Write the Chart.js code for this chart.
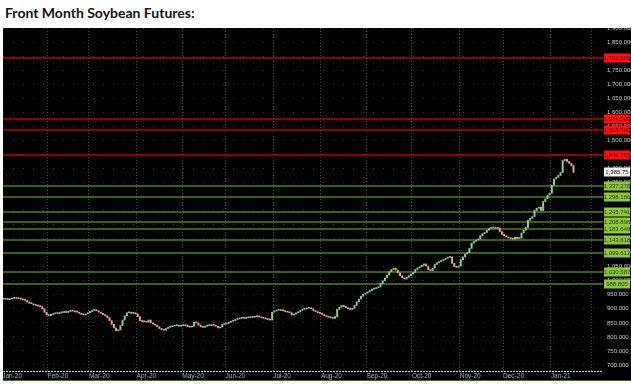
<!DOCTYPE html>
<html>
<head>
<meta charset="utf-8">
<script src="https://cdn.jsdelivr.net/npm/chart.js@4.4.1/dist/chart.umd.min.js"></script>
<style>
  html, body { margin: 0; padding: 0; background: #fff; }
  body { width: 631px; height: 384px; position: relative; overflow: hidden; }
  h1 { position: absolute; left: 5px; top: 4px; margin: 0; font: bold 14px Lato, sans-serif; color: #111; white-space: nowrap; }
  #box { position: absolute; left: 3px; top: 28px; width: 628px; height: 353px; background: #000; }
</style>
</head>
<body>
<h1>Front Month Soybean Futures:</h1>
<div id="box"><canvas id="chart" width="628" height="353"></canvas></div>
<script>
// month labels and number of trading days in each month
const monthLabels = ['Jan-20', 'Feb-20', 'Mar-20', 'Apr-20', 'May-20', 'Jun-20', 'Jul-20',
                     'Aug-20', 'Sep-20', 'Oct-20', 'Nov-20', 'Dec-20', 'Jan-21'];
const tradingDays = [21, 19, 22, 21, 20, 22, 22, 21, 21, 22, 20, 22, 19];

// daily settlements (cents/bu)
const firstOpen = 938;
const jan20 = [934, 935, 933, 935, 937, 938, 937, 936, 935, 932, 930, 924, 920, 918, 914, 912, 910, 908, 900, 888, 878];
const feb20 = [876, 880, 882, 884, 883, 886, 887, 888, 887, 891, 893, 892, 889, 888, 884, 880, 878, 882, 886];
const mar20 = [890, 894, 896, 893, 888, 884, 880, 875, 868, 858, 845, 832, 822, 825, 840, 860, 875, 886, 888, 884, 886, 882];
const apr20 = [872, 858, 855, 854, 852, 860, 850, 846, 842, 836, 830, 826, 824, 830, 834, 836, 838, 840, 842, 838, 842];
const may20 = [840, 842, 836, 835, 838, 852, 850, 842, 836, 834, 838, 842, 840, 843, 841, 838, 832, 835, 844, 846];
const jun20 = [848, 852, 856, 858, 862, 864, 866, 866, 866, 868, 870, 869, 870, 872, 872, 871, 868, 866, 864, 862, 860, 888];
const jul20 = [892, 895, 896, 894, 893, 890, 888, 886, 878, 882, 886, 889, 894, 898, 900, 902, 903, 900, 894, 890, 886, 884];
const aug20 = [880, 876, 872, 870, 868, 866, 872, 898, 906, 912, 908, 904, 900, 898, 902, 912, 925, 935, 945, 952, 956];
const sep20 = [960, 965, 970, 972, 975, 978, 990, 1000, 1010, 1020, 1032, 1040, 1045, 1038, 1028, 1018, 1010, 1006, 1012, 1018, 1024];
const oct20 = [1030, 1040, 1046, 1050, 1055, 1060, 1052, 1040, 1036, 1045, 1058, 1064, 1068, 1072, 1076, 1080, 1083, 1085, 1062, 1050, 1048, 1052];
const nov20 = [1075, 1085, 1095, 1100, 1115, 1134, 1140, 1145, 1148, 1160, 1168, 1172, 1180, 1186, 1188, 1190, 1186, 1188, 1175, 1165];
const dec20 = [1160, 1156, 1152, 1150, 1148, 1155, 1150, 1152, 1170, 1180, 1190, 1215, 1222, 1228, 1250, 1258, 1262, 1250, 1282, 1292, 1305, 1312];
const jan21 = [1340, 1362, 1368, 1375, 1385, 1428, 1432, 1425, 1418, 1410, 1385.75];

// support / resistance levels drawn on the chart
const redLevels = [1792.5, 1574.5, 1538.5, 1446.75];
const greenLevels = [1337.278, 1298.166, 1245.741, 1208.896, 1183.649, 1143.618, 1099.612, 1030.587, 988.805];
const lastPrice = 1385.75;

const yTicks = [];
for (let v = 700; v <= 1900; v += 50) yTicks.push(v);

const closes = [].concat(jan20, feb20, mar20, apr20, may20, jun20, jul20, aug20, sep20, oct20, nov20, dec20, jan21);

// month boundaries sit between trading days
const monthStarts = [];
let acc = 0;
tradingDays.forEach(n => { monthStarts.push(acc - 0.5); acc += n; });
monthStarts.push(acc - 0.5);

const UP = '#8ed08a';
const DOWN = '#f0a0a0';

const candles = closes.map((c, i) => ({ x: i, y: [i ? closes[i - 1] : firstOpen, c] }));
const colors = candles.map(d => d.y[1] >= d.y[0] ? UP : DOWN);

const fmt = (v, d) => v.toLocaleString('en-US', { minimumFractionDigits: d, maximumFractionDigits: d });

const levelsPlugin = {
  id: 'levels',
  beforeDatasetsDraw(chart) {
    const { ctx, chartArea: a, scales: { y } } = chart;
    ctx.save();
    ctx.lineWidth = 1.6;
    const line = (v, color) => {
      const py = Math.round(y.getPixelForValue(v));
      ctx.strokeStyle = color;
      ctx.beginPath();
      ctx.moveTo(0, py);
      ctx.lineTo(a.right, py);
      ctx.stroke();
    };
    greenLevels.forEach(v => line(v, '#4e7e1a'));
    redLevels.forEach(v => line(v, '#c40000'));
    ctx.restore();
  },
  afterDraw(chart) {
    const { ctx, chartArea: a, scales: { y }, width, height } = chart;
    ctx.save();
    // dotted bottom edge of the price pane
    ctx.strokeStyle = '#d0d0d0';
    ctx.lineWidth = 1;
    ctx.setLineDash([2, 1]);
    ctx.beginPath();
    ctx.moveTo(0, a.bottom + 0.5);
    ctx.lineTo(a.right, a.bottom + 0.5);
    ctx.stroke();
    ctx.setLineDash([]);
    // olive strip under the date labels
    ctx.strokeStyle = '#4b6a1c';
    ctx.beginPath();
    ctx.moveTo(0, height - 0.5);
    ctx.lineTo(width, height - 0.5);
    ctx.stroke();

    // price boxes on the right axis
    ctx.font = '6px "Liberation Sans"';
    ctx.textAlign = 'center';
    ctx.textBaseline = 'middle';
    const box = (v, fill, text, label) => {
      const py = Math.round(y.getPixelForValue(v));
      ctx.fillStyle = fill;
      ctx.fillRect(a.right + 1, py - 4.5, 26, 9);
      ctx.fillStyle = text;
      ctx.fillText(label, a.right + 14, py + 0.5);
    };
    greenLevels.forEach(v => box(v, '#8fc63a', '#24400a', fmt(v, 3)));
    redLevels.forEach(v => box(v, '#ff1010', '#700000', fmt(v, 3)));
    box(lastPrice, '#f2f2f2', '#222', fmt(lastPrice, 2));
    ctx.restore();
  }
};

new Chart(document.getElementById('chart'), {
  type: 'bar',
  data: {
    datasets: [{
      data: candles,
      backgroundColor: colors,
      borderWidth: 0,
      barThickness: 1.3,
      minBarLength: 1,
      grouped: false
    }]
  },
  options: {
    animation: false,
    responsive: false,
    layout: { padding: 0 },
    plugins: { legend: { display: false }, tooltip: { enabled: false } },
    scales: {
      x: {
        type: 'linear',
        offset: false,
        min: -0.13,
        max: 276.6,
        afterBuildTicks: s => { s.ticks = monthStarts.map(v => ({ value: v })); },
        afterFit: s => { s.height = 10; s.paddingLeft = 0; s.paddingRight = 0; },
        ticks: {
          autoSkip: false,
          maxRotation: 0,
          align: 'start',
          padding: 1,
          color: '#b0b0b0',
          font: { size: 6.5, family: 'Liberation Sans' },
          callback: (v, i) => monthLabels[i] || ''
        },
        grid: { offset: false, color: '#4a4a4a', drawTicks: false, lineWidth: 1 },
        border: { display: false, dash: [1, 2] }
      },
      y: {
        position: 'right',
        min: 678.6,
        max: 1900,
        afterBuildTicks: s => { s.ticks = yTicks.map(v => ({ value: v })); },
        afterFit: s => { s.width = 28; s.paddingTop = 0; s.paddingBottom = 0; },
        ticks: {
          color: '#c8c8c8',
          padding: 4,
          crossAlign: 'near',
          font: { size: 6, family: 'Liberation Sans' },
          callback: v => fmt(v, 3)
        },
        grid: { color: '#3c3c3c', drawTicks: false },
        border: { display: false, dash: [1, 9] }
      }
    }
  },
  plugins: [levelsPlugin]
});
</script>
</body>
</html>
